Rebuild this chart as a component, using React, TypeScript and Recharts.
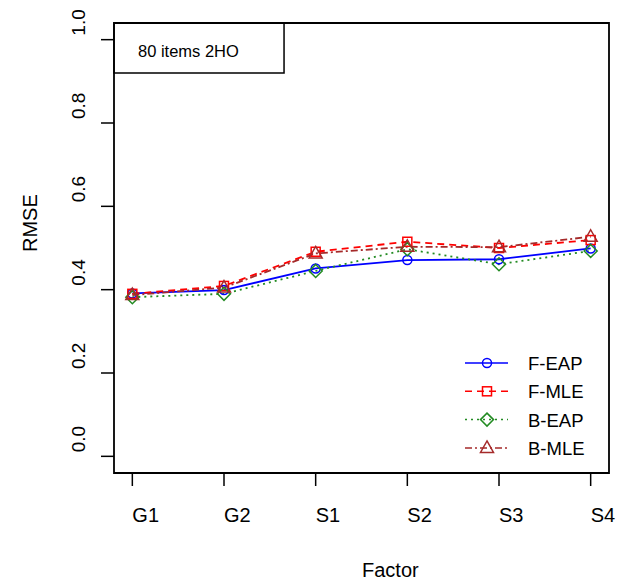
import { LineChart, Line, XAxis, YAxis, ReferenceArea, Legend } from 'recharts';

const FONT = '"Liberation Sans", Arial, sans-serif';

const factors = ['G1', 'G2', 'S1', 'S2', 'S3', 'S4'];
const fEap = [0.391, 0.399, 0.451, 0.471, 0.473, 0.499];
const fMle = [0.39, 0.409, 0.491, 0.515, 0.5, 0.519];
const bEap = [0.382, 0.39, 0.445, 0.497, 0.461, 0.493];
const bMle = [0.387, 0.405, 0.487, 0.503, 0.502, 0.527];
const yTicks = [0, 0.2, 0.4, 0.6, 0.8, 1.0];

const data = factors.map((f, i) => ({
  idx: i,
  factor: f,
  fEap: fEap[i],
  fMle: fMle[i],
  bEap: bEap[i],
  bMle: bMle[i],
}));

type Shape = 'circle' | 'square' | 'diamond' | 'triangle';

const series: { key: string; name: string; color: string; dash?: string; shape: Shape }[] = [
  { key: 'fEap', name: 'F-EAP', color: '#0000FF', shape: 'circle' },
  { key: 'fMle', name: 'F-MLE', color: '#FF0000', dash: '7 5', shape: 'square' },
  { key: 'bEap', name: 'B-EAP', color: '#228B22', dash: '2 4', shape: 'diamond' },
  { key: 'bMle', name: 'B-MLE', color: '#A52A2A', dash: '7 3 2 3', shape: 'triangle' },
];

function Marker({ shape, cx, cy, color }: { shape: Shape; cx: number; cy: number; color: string }) {
  const common = { fill: 'none', stroke: color, strokeWidth: 1.5 };
  if (shape === 'circle') return <circle cx={cx} cy={cy} r={4.5} {...common} />;
  if (shape === 'square') return <rect x={cx - 4.5} y={cy - 4.5} width={9} height={9} {...common} />;
  if (shape === 'diamond')
    return <polygon points={`${cx},${cy - 6.5} ${cx + 6.5},${cy} ${cx},${cy + 6.5} ${cx - 6.5},${cy}`} {...common} />;
  return <polygon points={`${cx},${cy - 7} ${cx + 6.5},${cy + 4.5} ${cx - 6.5},${cy + 4.5}`} {...common} />;
}

function XTick({ x, y, payload }: any) {
  return (
    <text x={x} y={y + 34} textAnchor="start" fontSize={20} fontFamily={FONT} fill="#000">
      {factors[payload.value]}
    </text>
  );
}

function YTick({ x, y, payload }: any) {
  const bx = x - 14;
  const by = y - 4;
  return (
    <text x={bx} y={by} transform={`rotate(-90, ${bx}, ${by})`} textAnchor="start" fontSize={19} fontFamily={FONT} fill="#000">
      {payload.value.toFixed(1)}
    </text>
  );
}

// legend rows follow the series order, not recharts' sorted payload
function LegendBox() {
  return (
    <svg width={160} height={120}>
      {series.map((s, i) => {
        const cy = 18 + i * 28.3;
        return (
          <g key={s.key}>
            <line x1={10} x2={53} y1={cy} y2={cy} stroke={s.color} strokeWidth={1.5} strokeDasharray={s.dash} />
            <Marker shape={s.shape} cx={32} cy={cy} color={s.color} />
            <text x={73} y={cy + 7} fontSize={18.5} fontFamily={FONT} fill="#000">
              {s.name}
            </text>
          </g>
        );
      })}
    </svg>
  );
}

function TitleLabel({ viewBox }: any) {
  return (
    <text x={viewBox.x + 24} y={viewBox.y + 34} fontSize={16.5} fontFamily={FONT} fill="#000">
      80 items 2HO
    </text>
  );
}

export default function App() {
  return (
    <div style={{ position: 'absolute', left: 0, top: 0, background: '#fff' }}>
      <LineChart width={627} height={582} data={data} margin={{ top: 23, right: 18, left: 0, bottom: 0 }} style={{ fontFamily: FONT }}>
        <XAxis
          type="number"
          dataKey="idx"
          domain={[-0.2, 5.2]}
          ticks={[0, 1, 2, 3, 4, 5]}
          allowDataOverflow
          height={109}
          axisLine={false}
          tickSize={13}
          tickLine={{ stroke: '#000', strokeWidth: 1.5 }}
          tick={<XTick />}
          label={{
            content: () => (
              <text x={362} y={577} fontSize={20} fontFamily={FONT} fill="#000">
                Factor
              </text>
            ),
          }}
        />
        <YAxis
          type="number"
          domain={[-0.04, 1.04]}
          ticks={yTicks}
          allowDataOverflow
          width={114}
          axisLine={false}
          tickSize={13}
          tickLine={{ stroke: '#000', strokeWidth: 1.5 }}
          tick={<YTick />}
          label={{
            content: () => (
              <text x={37} y={252} transform="rotate(-90, 37, 252)" fontSize={20} fontFamily={FONT} fill="#000">
                RMSE
              </text>
            ),
          }}
        />
        <ReferenceArea x1={-0.2} x2={5.2} y1={-0.04} y2={1.04} fill="none" fillOpacity={0} stroke="#000" strokeWidth={1.8} ifOverflow="visible" />
        <ReferenceArea
          x1={-0.2}
          x2={1.655}
          y1={0.92}
          y2={1.04}
          fill="none"
          fillOpacity={0}
          stroke="#000"
          strokeWidth={1.5}
          ifOverflow="visible"
          label={<TitleLabel />}
        />
        {series.map((s) => (
          <Line
            key={s.key}
            type="linear"
            dataKey={s.key}
            name={s.name}
            stroke={s.color}
            strokeWidth={1.8}
            strokeDasharray={s.dash}
            isAnimationActive={false}
            dot={(props: any) => <Marker key={`${s.key}-${props.index}`} shape={s.shape} cx={props.cx} cy={props.cy} color={s.color} />}
            activeDot={false}
          />
        ))}
        <Legend
          layout="vertical"
          align="center"
          verticalAlign="middle"
          content={<LegendBox />}
          wrapperStyle={{ position: 'absolute', left: 455, top: 345, width: 160, height: 120 }}
        />
      </LineChart>
    </div>
  );
}
